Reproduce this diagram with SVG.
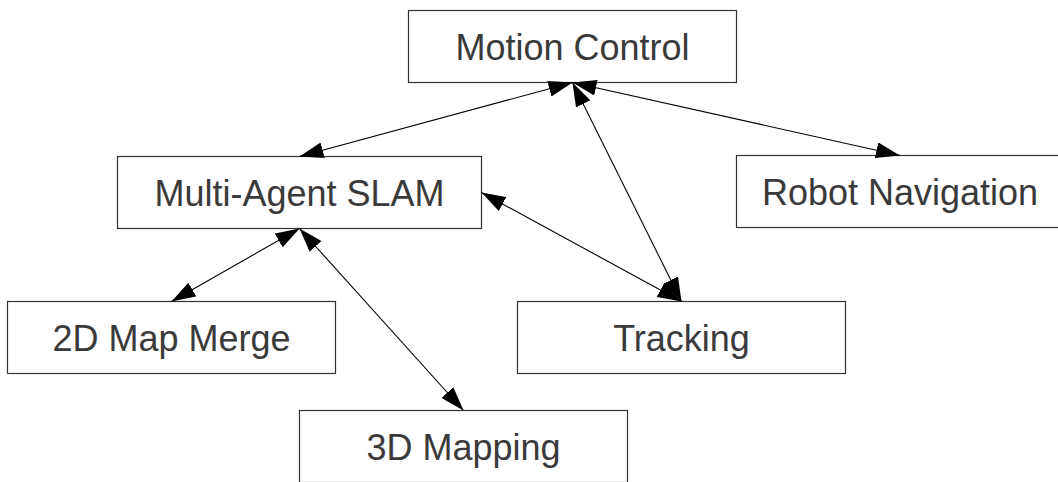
<svg xmlns="http://www.w3.org/2000/svg" width="1058" height="482" viewBox="0 0 1058 482">
  <style>
    .box { fill: #ffffff; stroke: #333333; stroke-width: 1.2; }
    .lbl { font-family: "Liberation Sans", Arial, sans-serif; font-size: 36px; fill: #3a3a3a; text-anchor: middle; }
    .edge { stroke: #000000; stroke-width: 1.1; fill: none; marker-start: url(#arrow); marker-end: url(#arrow); }
  </style>
  <defs>
    <marker id="arrow" viewBox="0 0 24 16" refX="24" refY="8" markerWidth="24" markerHeight="16" markerUnits="userSpaceOnUse" orient="auto-start-reverse">
      <path d="M0,0 L24,8 L0,16 z" fill="#000000"/>
    </marker>
  </defs>
  <rect width="1058" height="482" fill="#ffffff"/>
  <g id="n-motion-control">
    <rect class="box" x="408.5" y="10.5" width="328" height="72"/>
    <text class="lbl" x="572.5" y="59.5">Motion Control</text>
  </g>
  <g id="n-multi-agent-slam">
    <rect class="box" x="117.5" y="156.5" width="364" height="72"/>
    <text class="lbl" x="299.5" y="205.5">Multi-Agent SLAM</text>
  </g>
  <g id="n-robot-navigation">
    <rect class="box" x="736.5" y="155.5" width="328" height="72"/>
    <text class="lbl" x="900" y="204.5">Robot Navigation</text>
  </g>
  <g id="n-2d-map-merge">
    <rect class="box" x="7.5" y="301.5" width="328" height="72"/>
    <text class="lbl" x="171.5" y="350.5">2D Map Merge</text>
  </g>
  <g id="n-tracking">
    <rect class="box" x="517.5" y="301.5" width="328" height="72"/>
    <text class="lbl" x="681.5" y="350.5">Tracking</text>
  </g>
  <g id="n-3d-mapping">
    <rect class="box" x="299.5" y="410.5" width="328" height="72"/>
    <text class="lbl" x="463.5" y="459.5">3D Mapping</text>
  </g>
  <g id="connectors">
    <line class="edge" x1="572.5" y1="82.5" x2="299.5" y2="156.5"/>
    <line class="edge" x1="572.5" y1="82.5" x2="681.5" y2="301.5"/>
    <line class="edge" x1="572.5" y1="82.5" x2="900" y2="155.5"/>
    <line class="edge" x1="481.5" y1="192.5" x2="681.5" y2="301.5"/>
    <line class="edge" x1="299.5" y1="228.5" x2="171.5" y2="301.5"/>
    <line class="edge" x1="299.5" y1="228.5" x2="463.5" y2="410.5"/>
  </g>
</svg>
